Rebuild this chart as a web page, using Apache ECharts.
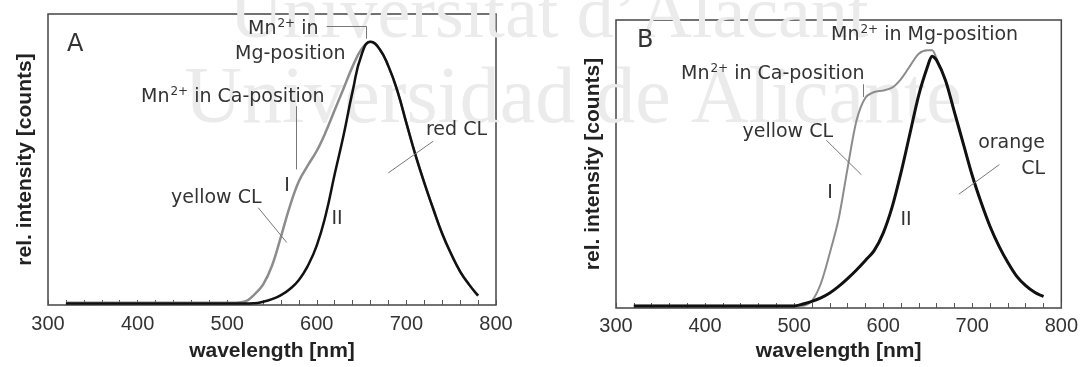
<!DOCTYPE html>
<html>
<head>
<meta charset="utf-8">
<script src="https://cdn.jsdelivr.net/npm/echarts@6/dist/echarts.min.js"></script>
<style>
  html, body { margin: 0; padding: 0; background: #fff; }
  #chart { width: 1081px; height: 367px; }
</style>
</head>
<body>
<div id="chart"></div>
<script>
// panel A: wavelength [nm] and relative intensity (% of plot height)
const waveA = [320, 330, 340, 350, 360, 370, 380, 390, 400, 410, 420, 430, 440, 450, 460, 470, 480, 490, 500, 510,
  520, 530, 540, 550, 560, 570, 580, 590, 600, 610, 620, 630, 640, 650, 660, 670, 680, 690, 700, 710, 720, 730, 740, 750, 760, 770, 780];
const yellowA = [0.8, 0.8, 0.8, 0.8, 0.8, 0.8, 0.8, 0.8, 0.8, 0.8, 0.8, 0.8, 0.8, 0.8, 0.8, 0.8, 0.8, 0.8, 0.8, 0.8,
  1.2, 3.5, 7, 13.5, 23.5, 34, 42.5, 48, 53, 59.5, 67, 74.5, 82, 88, 90.5, 88, 82, 73.5, 62.5, 51.7, 42, 33, 24.5, 17.5, 11.5, 7, 3.2];
const redA = [0.5, 0.5, 0.5, 0.5, 0.5, 0.5, 0.5, 0.5, 0.5, 0.5, 0.5, 0.5, 0.5, 0.5, 0.5, 0.5, 0.5, 0.5, 0.5, 0.5,
  0.5, 0.6, 1.1, 2, 3.4, 5.5, 8.6, 13.5, 20.5, 31, 45, 58.5, 73.5, 86, 90.5, 88, 82, 73.5, 62.5, 51.7, 42, 33, 24.5, 17.5, 11.5, 7, 3.2];

// panel B
const waveB = [320, 330, 340, 350, 360, 370, 380, 390, 400, 410, 420, 430, 440, 450, 460, 470, 480, 490, 500, 510,
  520, 530, 540, 550, 560, 570, 580, 590, 600, 610, 620, 630, 640, 650, 655, 660, 670, 680, 690, 700, 710, 720, 730, 740, 750, 760, 770, 780];
const yellowB = [0.8, 0.8, 0.8, 0.8, 0.8, 0.8, 0.8, 0.8, 0.8, 0.8, 0.8, 0.8, 0.8, 0.8, 0.8, 0.8, 0.8, 0.8, 0.8, 0.8,
  2.5, 8.5, 19, 31, 48.5, 65, 73, 75, 75.5, 76.5, 79.5, 84, 88.3, 89.5, 89.5, 86.5, 79, 68, 57, 46, 36.6, 28.3, 21.5, 15.8, 11, 7.8, 5.5, 4];
const orangeB = [0.7, 0.7, 0.7, 0.7, 0.7, 0.7, 0.7, 0.7, 0.7, 0.7, 0.7, 0.7, 0.7, 0.7, 0.7, 0.7, 0.7, 0.7, 0.7, 1.4,
  2.3, 3.5, 5.2, 7.5, 10.2, 13.2, 16.5, 20, 26, 35, 47, 60.5, 74, 84, 87.4, 86, 79, 68, 57, 46, 36.6, 28.3, 21.5, 15.8, 11, 7.8, 5.5, 4];

// leader lines [x1, y1, x2, y2] in data units
const leadersA = [[611, 95.7, 655.7, 95.7], [655.7, 95.7, 655.7, 91.5], [577.5, 68.3, 577.5, 46.6],
  [534.7, 33.4, 566.4, 21.5], [730, 56.3, 679.8, 45.4]];
const leadersB = [[577.3, 77.7, 577.3, 73.3], [536, 58.3, 575.4, 46.3], [730.5, 49.8, 684.9, 39.5]];

const pairs = (xs, ys) => xs.map((x, i) => [x, ys[i]]);
const leaderData = list => list.map(l => [{ coord: [l[0], l[1]] }, { coord: [l[2], l[3]] }]);

const chart = echarts.init(document.getElementById('chart'));
const sans = 'Liberation Sans, Arial, sans-serif';
const note_font = 'DejaVu Sans, sans-serif';
const GRAY = '#8c8c8c';

const xAxisBase = (gridIndex, margin, gap) => ({
  gridIndex, type: 'value', min: 300, max: 800, interval: 100,
  name: 'wavelength [nm]', nameLocation: 'middle', nameGap: gap,
  nameTextStyle: { fontFamily: sans, fontWeight: 'bold', fontSize: 21, color: '#222' },
  axisLine: { show: false },
  axisTick: { inside: true, length: 5, lineStyle: { color: '#555' } },
  minorTick: { show: true, splitNumber: 5, length: 5, lineStyle: { color: '#555' } },
  splitLine: { show: false },
  axisLabel: { margin, fontFamily: sans, fontSize: 20, color: '#333' }
});
const yAxisBase = gridIndex => ({
  gridIndex, type: 'value', min: 0, max: 100,
  name: 'rel. intensity [counts]', nameLocation: 'middle', nameGap: 12, nameRotate: 90,
  nameTextStyle: { fontFamily: sans, fontWeight: 'bold', fontSize: 21, color: '#222' },
  axisLine: { show: false }, axisTick: { show: false }, axisLabel: { show: false }, splitLine: { show: false }
});
const leaderLine = list => ({
  silent: true, symbol: 'none', label: { show: false },
  lineStyle: { color: '#777', width: 1, type: 'solid' },
  data: leaderData(list)
});

const rich = {
  a: { fontFamily: note_font, fontSize: 19, color: '#333', lineHeight: 22 },
  sup: { fontFamily: note_font, fontSize: 12, color: '#333', verticalAlign: 'top', lineHeight: 12, padding: [0, 0, 0, 1] }
};
const note = (x, y, text, align, size) => ({
  type: 'text', x, y, z: 100,
  style: { text, rich, fontFamily: note_font, fontSize: size || 19, fill: '#333', align: align || 'left', verticalAlign: 'middle' }
});
const mark = (x, y, text, size) => ({
  type: 'text', x, y, z: 0,
  style: { text, fontFamily: 'Liberation Serif, serif', fontSize: size, fill: '#ebebeb', align: 'center', verticalAlign: 'middle' }
});

chart.setOption({
  backgroundColor: '#fff',
  animation: false,
  grid: [
    { left: 48, top: 14, width: 448, height: 292, show: true, borderColor: '#444', borderWidth: 1.5, backgroundColor: 'transparent' },
    { left: 616, top: 20, width: 446, height: 292, show: true, borderColor: '#444', borderWidth: 1.5, backgroundColor: 'transparent' }
  ],
  xAxis: [xAxisBase(0, 9, 36), xAxisBase(1, 8, 33)],
  yAxis: [yAxisBase(0), yAxisBase(1)],
  series: [
    { type: 'line', xAxisIndex: 0, yAxisIndex: 0, data: pairs(waveA, yellowA), smooth: 0.4, symbol: 'none',
      lineStyle: { color: GRAY, width: 2.5 }, markLine: leaderLine(leadersA) },
    { type: 'line', xAxisIndex: 0, yAxisIndex: 0, data: pairs(waveA, redA), smooth: 0.5, symbol: 'none',
      lineStyle: { color: '#111', width: 2.5 } },
    { type: 'line', xAxisIndex: 1, yAxisIndex: 1, data: pairs(waveB, yellowB), smooth: 0.3, symbol: 'none',
      lineStyle: { color: GRAY, width: 2 }, markLine: leaderLine(leadersB) },
    { type: 'line', xAxisIndex: 1, yAxisIndex: 1, data: pairs(waveB, orangeB), smooth: 0.3, symbol: 'none',
      lineStyle: { color: '#111', width: 3 } }
  ],
  graphic: [
    mark(549, 18, 'Universitat d\u2019Alacant', 74),
    mark(573, 101, 'Universidad de Alicante', 80),
    note(67, 45, 'A', 'left', 24),
    note(248, 29, '{a|Mn}{sup|2+}{a| in}'),
    note(235, 54, 'Mg-position'),
    note(141, 97, '{a|Mn}{sup|2+}{a| in Ca-position}'),
    note(287, 186, 'I', 'center', 19),
    note(171, 198, 'yellow CL'),
    note(337, 219, 'II', 'center', 19),
    note(487, 130, 'red CL', 'right'),
    note(637, 41, 'B', 'left', 24),
    note(831, 35, '{a|Mn}{sup|2+}{a| in Mg-position}'),
    note(681, 74, '{a|Mn}{sup|2+}{a| in Ca-position}'),
    note(833, 132, 'yellow CL', 'right'),
    note(830, 193, 'I', 'center', 19),
    note(906, 220, 'II', 'center', 19),
    note(1045, 143, 'orange', 'right'),
    note(1045, 169, 'CL', 'right')
  ]
});
</script>
</body>
</html>
